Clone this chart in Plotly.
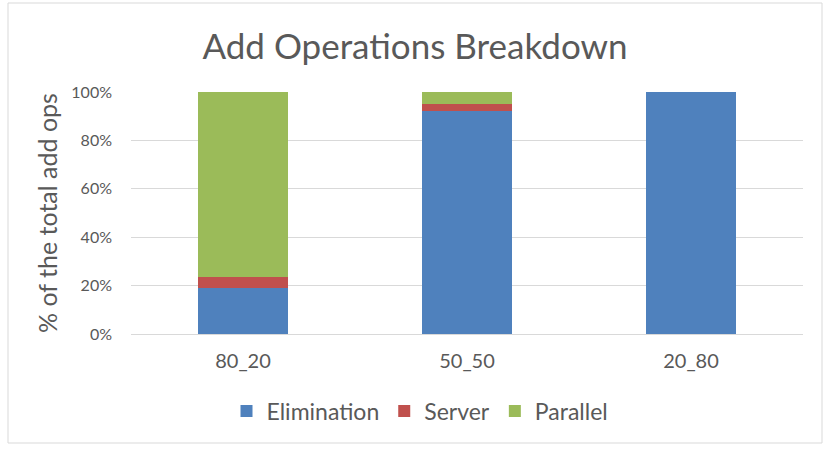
import plotly.graph_objects as go

categories = ["80_20", "50_50", "20_80"]
elimination = [18.9, 92.3, 100.0]
server = [4.5, 2.9, 0.0]
parallel = [76.6, 4.8, 0.0]
series_names = ["Elimination", "Server", "Parallel"]
colors = ["#4F81BD", "#C0504D", "#9BBB59"]
tick_vals = [0, 20, 40, 60, 80, 100]
tick_text = ["0%", "20%", "40%", "60%", "80%", "100%"]

FONT = "Lato"
fig = go.Figure()
for name, vals, col in zip(series_names, [elimination, server, parallel], colors):
    fig.add_trace(go.Bar(x=categories, y=vals, name=name, marker_color=col,
                         marker_line_width=0))

L, R, T, B = 131, 27, 92, 119
W, H = 830, 453
pw, ph = W - L - R, H - T - B

def px(x):
    return (x - L) / pw

def py(y):
    return (H - B - y) / ph

fig.update_layout(
    width=W, height=H,
    barmode="stack", bargap=0.6,
    margin=dict(l=L, r=R, t=T, b=B),
    paper_bgcolor="white", plot_bgcolor="white",
    font=dict(family=FONT, color="#595959"),
    title=dict(text="Add Operations Breakdown", x=0.5, xanchor="center",
               y=1 - 47 / H, yanchor="middle",
               font=dict(size=35, color="#595959", family=FONT)),
    xaxis=dict(showgrid=False, showline=True, linecolor="#D9D9D9",
               tickfont=dict(size=20, color="#595959"), ticks="",
               ticklabelstandoff=9),
    yaxis=dict(range=[0, 100], tickvals=tick_vals, ticktext=tick_text,
               showgrid=True, gridcolor="#D9D9D9", zeroline=False,
               tickfont=dict(size=16, color="#595959"), ticks="",
               ticklabelstandoff=18),
    legend=dict(orientation="h", x=px(420), xanchor="center", y=py(411), yanchor="middle",
                font=dict(size=23, color="#595959"), traceorder="normal"),
    showlegend=True,
)
fig.add_annotation(text="% of the total add ops", textangle=-90, x=px(47), y=0.5,
                   xref="paper", yref="paper", showarrow=False,
                   xanchor="center", yanchor="middle",
                   font=dict(size=25, color="#595959", family=FONT))
fig.add_shape(type="rect", xref="paper", yref="paper",
              x0=px(8), x1=px(822), y0=py(443), y1=py(3),
              line=dict(color="#D9D9D9", width=1), layer="below")
fig.write_html("out.html", config={"displayModeBar": False},
               post_script="document.body.style.margin='0px';")
